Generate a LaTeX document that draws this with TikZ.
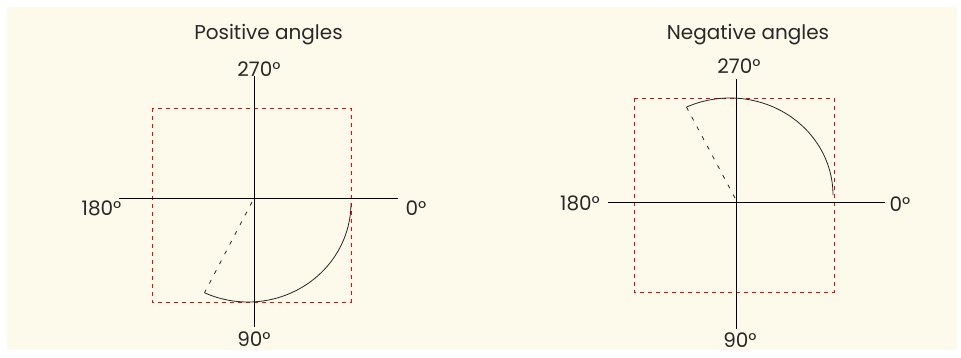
\documentclass[tikz,border=0pt]{standalone}
\usepackage{fontspec}
\setmainfont{Poppins}
\definecolor{cream}{RGB}{253,250,235}
\definecolor{txt}{RGB}{40,40,40}
\tikzset{
  lbl/.style={font=\fontsize{20}{22}\selectfont, text=txt, inner sep=0pt, anchor=base},
  axisline/.style={line width=1pt, black},
  redbox/.style={red, line width=1pt, dash pattern=on 4pt off 4pt},
  arcline/.style={line width=0.8pt, black!85},
  radline/.style={line width=0.8pt, black!85, dash pattern=on 4pt off 7pt}
}
\begin{document}
\begin{tikzpicture}[x=1pt,y=-1pt]
\useasboundingbox (0,0) rectangle (961,357);
\fill[cream] (7,7) rectangle (957,350);

% ---------- left: positive angles ----------
\node[lbl] (tP) at (268.5,39) {Positive angles};
\node[lbl] (l270) at (259,76) {270°};
\node[lbl] (l90) at (254,346) {90°};
\node[lbl] (l180) at (101.5,215) {180°};
\node[lbl] (l0) at (416,215) {0°};

\coordinate (lxa) at (119,198);
\coordinate (lxb) at (398,198);
\coordinate (lya) at (254,76);
\coordinate (lyb) at (254,327);
\coordinate (lc) at (252,202);
\coordinate (lbox1) at (152,108);
\coordinate (lbox2) at (351,302);
\coordinate (lend) at ({248+103*cos(115)},{203+99*sin(115)});

\draw[redbox] (lbox1) rectangle (lbox2);
\draw[axisline] (lxa) -- (lxb);
\draw[axisline] (lya) -- (lyb);
\draw[arcline] plot[domain=0:115, samples=80, smooth] ({248+103*cos(\x)},{203+99*sin(\x)});
\draw[radline] (lc) -- (lend);

% ---------- right: negative angles ----------
\node[lbl] (tN) at (748,39) {Negative angles};
\node[lbl] (r270) at (739,73) {270°};
\node[lbl] (r90) at (740,347) {90°};
\node[lbl] (r180) at (580,210) {180°};
\node[lbl] (r0) at (900,211) {0°};

\coordinate (rxa) at (608,202);
\coordinate (rxb) at (885,202);
\coordinate (rya) at (736,79);
\coordinate (ryb) at (736,329);
\coordinate (rc) at (735,198);
\coordinate (rbox1) at (634,98);
\coordinate (rbox2) at (834,292);
\coordinate (rend) at ({730+103*cos(-115)},{195+97*sin(-115)});

\draw[redbox] (rbox1) rectangle (rbox2);
\draw[axisline] (rxa) -- (rxb);
\draw[axisline] (rya) -- (ryb);
\draw[arcline] plot[domain=0:-115, samples=80, smooth] ({730+103*cos(\x)},{195+97*sin(\x)});
\draw[radline] (rc) -- (rend);
\end{tikzpicture}
\end{document}
